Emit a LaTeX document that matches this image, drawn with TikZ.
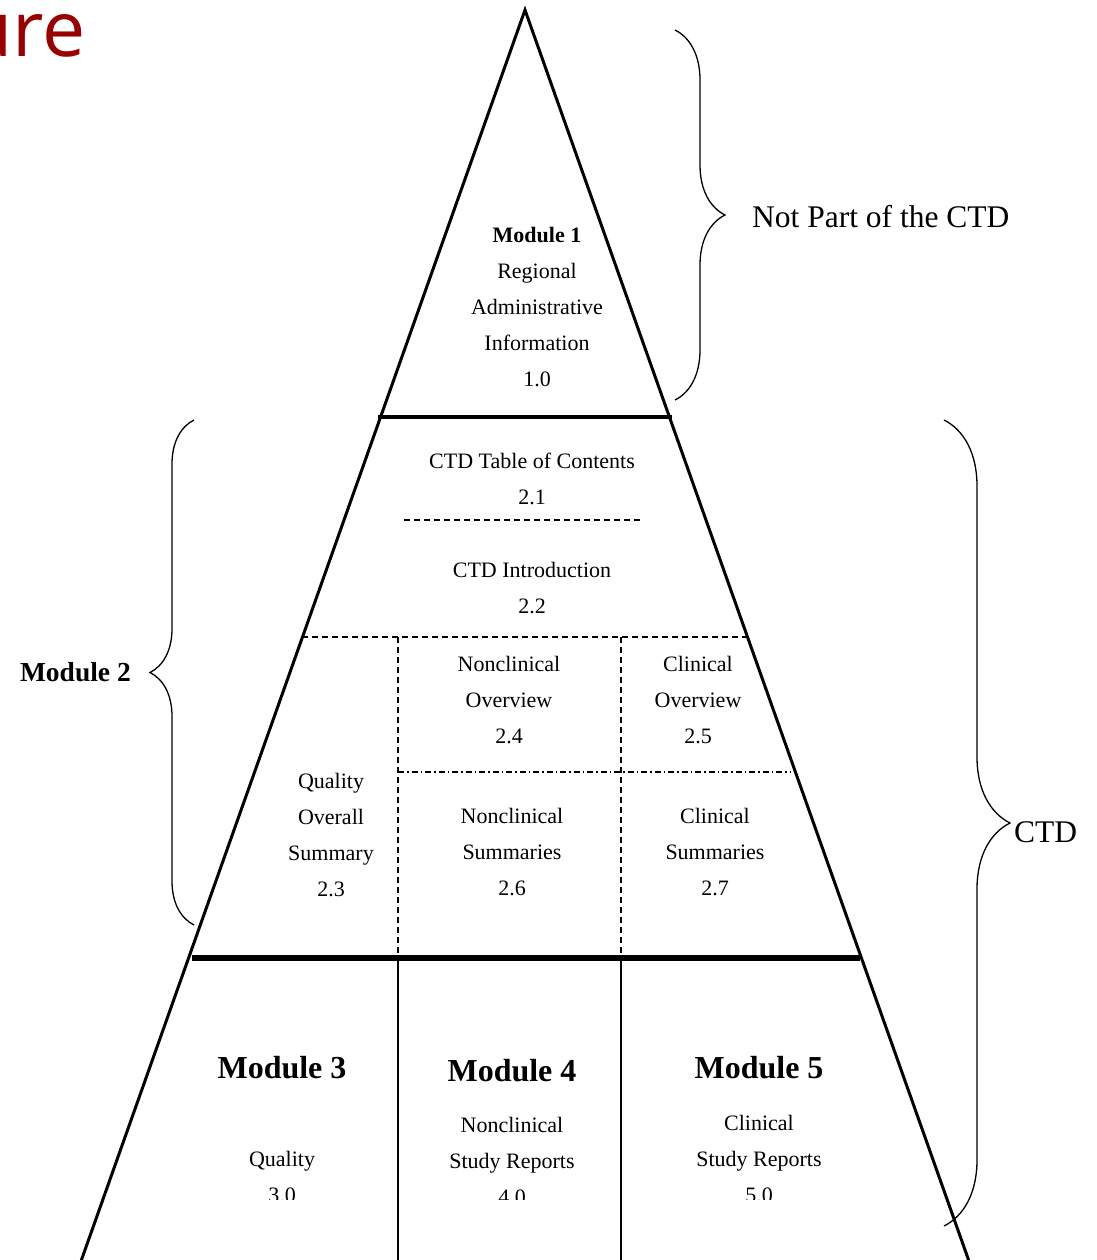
\documentclass[tikz,border=0pt]{standalone}
\usepackage{fontspec}
\setmainfont{Liberation Serif}
\newfontfamily\titlefont{Open Sans}
\usetikzlibrary{positioning,calc,decorations.pathreplacing}
\definecolor{titlered}{HTML}{990000}
\tikzset{
side/.style = {line width=3pt},
split/.style = {line width=#1},
dashline/.style = {line width=1.3pt, dash pattern=on 6pt off 4pt},
dotline/.style = {line width=1.3pt, dash pattern=on 6pt off 3pt on 1.5pt off 3pt},
thin line/.style = {line width=1.3pt},
cell/.style = {align=center, font=\fontsize{22}{36}\selectfont, inner sep=0pt},
head/.style = {font=\fontsize{32}{36}\selectfont\bfseries, inner sep=0pt},
side label/.style = {font=\fontsize{31.5}{36}\selectfont, inner sep=0pt},
brc/.style = {decorate, decoration={brace, amplitude=#1}, line width=1.3pt}
}
\begin{document}
\begin{tikzpicture}[x=1pt, y=-1pt]
\useasboundingbox (0,0) rectangle (1096,1260);
% title remainder
\node[font=\titlefont\fontsize{77}{80}\selectfont, text=titlered, anchor=base east, inner sep=0pt] (title) at (86,57) {ure};
% pyramid
\coordinate (apex) at (525,10);
\coordinate (bl) at (80,1264);
\coordinate (br) at (970,1264);
\draw[side] (bl) -- (apex) -- (br);
\draw[split=4pt] (378,417) -- (672,417);
\draw[split=6pt] (192,958) -- (860,958);
% module 2 cells
\draw[dashline] (404,520) -- (643,520);
\draw[dashline] (302,637) -- (746,637);
\draw[dashline] (398,637) -- (398,958);
\draw[dashline] (621,637) -- (621,958);
\draw[dotline] (398,772) -- (790,772);
\draw[thin line] (398,958) -- (398,1264);
\draw[thin line] (621,958) -- (621,1264);
% texts
\node[cell] (m1) at (537,307) {\textbf{Module 1}\\Regional\\Administrative\\Information\\1.0};
\node[cell] (toc) at (532,479) {CTD Table of Contents\\2.1};
\node[cell] (intro) at (532,588) {CTD Introduction\\2.2};
\node[cell] (ncov) at (509,700) {Nonclinical\\Overview\\2.4};
\node[cell] (clov) at (698,700) {Clinical\\Overview\\2.5};
\node[cell] (qos) at (331,835) {Quality\\Overall\\Summary\\2.3};
\node[cell] (ncsum) at (512,852) {Nonclinical\\Summaries\\2.6};
\node[cell] (clsum) at (715,852) {Clinical\\Summaries\\2.7};
\node[head] (m3) at (282,1068) {Module 3};
\node[head] (m4) at (512,1071) {Module 4};
\node[head] (m5) at (759,1068) {Module 5};
\begin{scope}
\clip (0,0) rectangle (1096,1199);
\node[cell, below of=m3, node distance=109pt] (m3txt) {Quality\\3.0};
\node[cell, below of=m4, node distance=90pt] (m4txt) {Nonclinical\\Study Reports\\4.0};
\node[cell, below of=m5, node distance=91pt] (m5txt) {Clinical\\Study Reports\\5.0};
\end{scope}
% braces
\coordinate (nptop) at (675,30);
\coordinate (npbot) at (675,400);
\coordinate (ctdtop) at (944,420);
\coordinate (ctdbot) at (944,1226);
\coordinate (m2top) at (194,420);
\coordinate (m2bot) at (194,925);
\draw[brc=50pt] (nptop) -- (npbot);
\draw[brc=66pt] (ctdtop) -- (ctdbot);
\draw[brc=44pt] (m2bot) -- (m2top);
\node[side label, anchor=west] (notctd) at (752,217) {Not Part of the CTD};
\node[side label, anchor=west] (ctd) at (1014,832) {CTD};
\node[side label, anchor=east, font=\fontsize{27.5}{36}\selectfont\bfseries] (m2) at (131,672) {Module 2};
\end{tikzpicture}
\end{document}
